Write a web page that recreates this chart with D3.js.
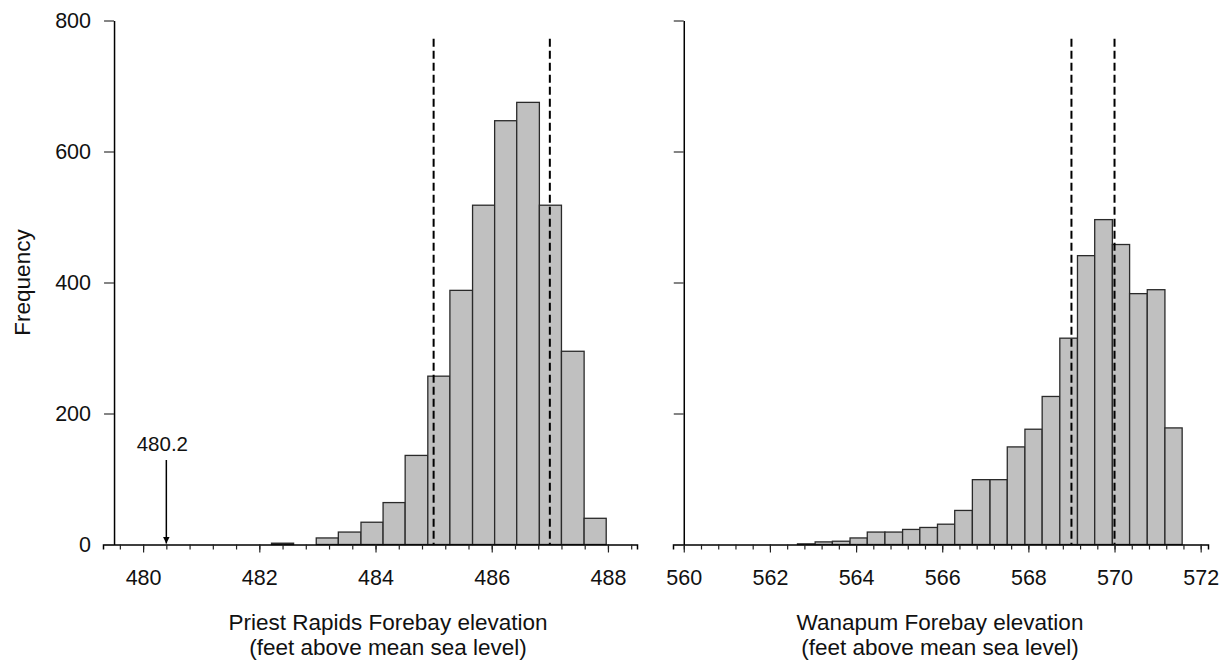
<!DOCTYPE html>
<html>
<head>
<meta charset="utf-8">
<script src="https://cdn.jsdelivr.net/npm/d3@7"></script>
<style>
  body { margin: 0; background: #fff; }
  svg { display: block; font-family: "Liberation Sans", Arial, sans-serif; }
  .tick-label { font-size: 21.5px; fill: #111; }
  .axis-title { font-size: 22.5px; fill: #111; }
</style>
</head>
<body>
<svg id="chart" width="1225" height="664"></svg>
<script>
// Priest Rapids forebay histogram (bin edges + counts)
const priestEdges = [482.21, 482.59, 482.98, 483.36, 483.75, 484.13, 484.51, 484.90,
  485.28, 485.67, 486.05, 486.43, 486.82, 487.20, 487.59, 487.97];
const priestCounts = [2, 0, 10, 19, 34, 64, 136, 257, 388, 518, 647, 675, 518, 295, 40];
const priestLimits = [485, 487];
const priestTicks = [480, 482, 484, 486, 488];
const priestMinorTicks = [479.6, 480, 480.4, 480.8, 481.2, 481.6, 482, 482.4, 482.8, 483.2,
  483.6, 484, 484.4, 484.8, 485.2, 485.6, 486, 486.4, 486.8, 487.2, 487.6, 488, 488.4];
const priestMinimum = { label: "480.2", at: 480.4 };

// Wanapum forebay histogram
const wanapumEdges = [562.64, 563.05, 563.45, 563.86, 564.26, 564.67, 565.08, 565.48,
  565.89, 566.29, 566.70, 567.11, 567.51, 567.92, 568.32, 568.73, 569.14, 569.54,
  569.95, 570.35, 570.76, 571.17, 571.57];
const wanapumCounts = [1, 4, 5, 10, 19, 19, 23, 26, 31, 52, 99, 99, 149, 176, 226, 315,
  441, 496, 458, 383, 389, 178];
const wanapumLimits = [569, 570];
const wanapumTicks = [560, 562, 564, 566, 568, 570, 572];
const wanapumMinorTicks = [560, 560.4, 560.8, 561.2, 561.6, 562, 562.4, 562.8, 563.2, 563.6,
  564, 564.4, 564.8, 565.2, 565.6, 566, 566.4, 566.8, 567.2, 567.6, 568, 568.4, 568.8,
  569.2, 569.6, 570, 570.4, 570.8, 571.2, 571.6, 572];

const freqTicks = [0, 200, 400, 600, 800];
const limitTop = 772;

const svg = d3.select("#chart");

const y = d3.scaleLinear().domain([0, 800]).range([544.5, 20.5]);

const panels = [
  {
    edges: priestEdges, counts: priestCounts, limits: priestLimits,
    ticks: priestTicks, minor: priestMinorTicks,
    x: d3.scaleLinear().domain([479.31, 488.5]).range([103, 637]),
    yAxisAt: 479.5, showYLabels: true,
    title: ["Priest Rapids Forebay elevation", "(feet above mean sea level)"], titleX: 388,
  },
  {
    edges: wanapumEdges, counts: wanapumCounts, limits: wanapumLimits,
    ticks: wanapumTicks, minor: wanapumMinorTicks,
    x: d3.scaleLinear().domain([559.75, 572.17]).range([673, 1208]),
    yAxisAt: 560, showYLabels: false,
    title: ["Wanapum Forebay elevation", "(feet above mean sea level)"], titleX: 940,
  },
];

panels.forEach((p) => {
  const g = svg.append("g");
  const bins = p.counts.map((c, i) => ({ x0: p.edges[i], x1: p.edges[i + 1], count: c }));

  // bars
  g.selectAll("rect.bar")
    .data(bins)
    .enter()
    .append("rect")
    .attr("class", "bar")
    .attr("x", (d) => p.x(d.x0))
    .attr("y", (d) => y(d.count))
    .attr("width", (d) => p.x(d.x1) - p.x(d.x0))
    .attr("height", (d) => y(0) - y(d.count))
    .attr("fill", "#c0c0c0")
    .attr("stroke", "#2a2a2a")
    .attr("stroke-width", 1.3);

  // dashed reference lines
  g.selectAll("line.limit")
    .data(p.limits)
    .enter()
    .append("line")
    .attr("class", "limit")
    .attr("x1", (d) => p.x(d))
    .attr("x2", (d) => p.x(d))
    .attr("y1", y(limitTop))
    .attr("y2", y(0))
    .attr("stroke", "#000")
    .attr("stroke-width", 2)
    .attr("stroke-dasharray", "8,4");

  // x axis: minor ticks, then major ticks with labels
  const xMinor = d3.axisBottom(p.x).tickValues(p.minor).tickSize(5).tickFormat("");
  g.append("g")
    .attr("transform", `translate(0,${y(0)})`)
    .call(xMinor)
    .call((a) => a.selectAll("line").attr("stroke", "#222").attr("stroke-width", 1.2))
    .call((a) => a.select(".domain").attr("stroke", "#000").attr("stroke-width", 1.5));

  const xMajor = d3.axisBottom(p.x).tickValues(p.ticks).tickSize(8).tickPadding(17).tickFormat(d3.format("d"));
  g.append("g")
    .attr("transform", `translate(0,${y(0)})`)
    .call(xMajor)
    .call((a) => a.select(".domain").remove())
    .call((a) => a.selectAll("line").attr("stroke", "#222").attr("stroke-width", 1.2))
    .call((a) => a.selectAll("text").attr("class", "tick-label").attr("font-size", null).attr("font-family", null).attr("fill", "#111"));

  // y axis
  const yAxis = d3.axisLeft(y).tickValues(freqTicks).tickSize(10).tickPadding(13)
    .tickSizeOuter(0)
    .tickFormat(p.showYLabels ? d3.format("d") : "");
  g.append("g")
    .attr("transform", `translate(${p.x(p.yAxisAt)},0)`)
    .call(yAxis)
    .call((a) => a.select(".domain").attr("stroke", "#000").attr("stroke-width", 1.5))
    .call((a) => a.selectAll("line").attr("stroke", "#333").attr("stroke-width", 1.2))
    .call((a) => a.selectAll("text").attr("class", "tick-label").attr("font-size", null).attr("font-family", null).attr("fill", "#111"));

  // axis title (two lines)
  g.append("text")
    .attr("class", "axis-title")
    .attr("text-anchor", "middle")
    .attr("x", p.titleX)
    .attr("y", 630)
    .selectAll("tspan")
    .data(p.title)
    .enter()
    .append("tspan")
    .attr("x", p.titleX)
    .attr("dy", (d, i) => (i === 0 ? 0 : 25))
    .text((d) => d);
});

// y title
svg.append("text")
  .attr("class", "axis-title")
  .attr("text-anchor", "middle")
  .attr("transform", `translate(30,${y(400)}) rotate(-90)`)
  .text("Frequency");

// minimum elevation annotation on the Priest Rapids panel
const px = panels[0].x;
svg.append("defs")
  .append("marker")
  .attr("id", "arrowhead")
  .attr("viewBox", "0 0 10 10")
  .attr("refX", 10)
  .attr("refY", 5)
  .attr("markerWidth", 7)
  .attr("markerHeight", 8)
  .attr("markerUnits", "userSpaceOnUse")
  .attr("orient", "auto")
  .append("path")
  .attr("d", "M0,0 L10,5 L0,10 Z")
  .attr("fill", "#000");

svg.append("line")
  .attr("x1", px(priestMinimum.at))
  .attr("x2", px(priestMinimum.at))
  .attr("y1", y(129))
  .attr("y2", y(0) - 1)
  .attr("stroke", "#000")
  .attr("stroke-width", 1.5)
  .attr("marker-end", "url(#arrowhead)");

svg.append("text")
  .attr("x", px(priestMinimum.at) - 4)
  .attr("y", y(142))
  .attr("text-anchor", "middle")
  .attr("font-size", 20.5)
  .attr("fill", "#111")
  .text(priestMinimum.label);
</script>
</body>
</html>
